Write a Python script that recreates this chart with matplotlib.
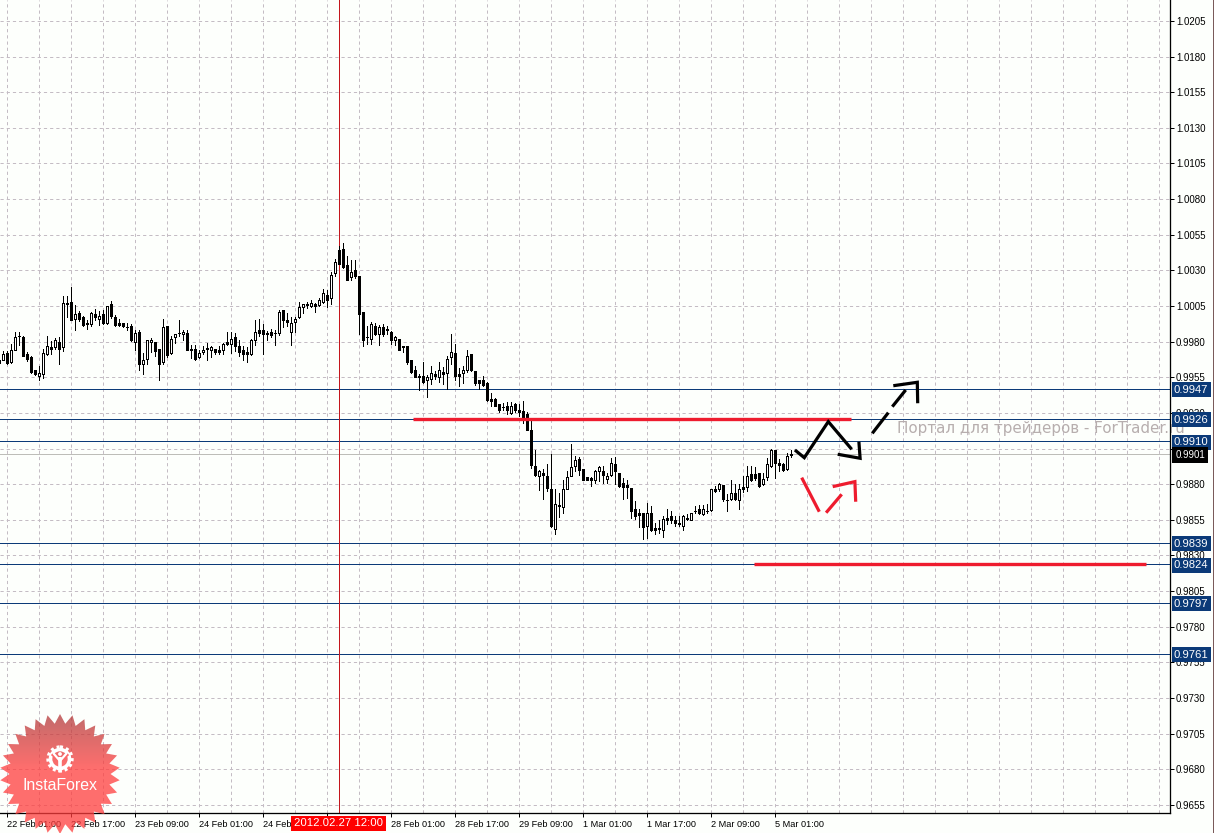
import numpy as np
import matplotlib
matplotlib.use("Agg")
import matplotlib.pyplot as plt
from matplotlib.lines import Line2D
from matplotlib.patches import Polygon, Circle, Rectangle

# Hourly EURUSD-style candles, prices in 1e-5 units; first candle is bar index -2
opens = [99674,99674,99721,99655,99744,99837,99835,99714,99695,99604,99557,99576,99714,99765,99763,99800,99763,100071,100078,99959,
100001,99973,99931,99924,99994,99959,99994,99931,100064,99973,99931,99931,99905,99912,99798,99870,99641,99676,99795,99798,
99749,99655,99910,99718,99830,99863,99854,99861,99746,99749,99690,99725,99753,99739,99749,99744,99744,99798,99786,99833,
99767,99744,99730,99711,99814,99882,99884,99861,99868,99863,99861,100024,99954,99866,99936,99973,100043,100066,100048,100066,
100059,100076,100130,100108,100281,100445,100452,100340,100253,100305,100263,100010,99835,99816,99912,99851,99903,99889,99870,99812,
99819,99767,99772,99669,99604,99562,99562,99529,99538,99576,99552,99590,99578,99693,99721,99576,99581,99599,99716,99592,
99534,99534,99510,99398,99398,99366,99345,99352,99300,99366,99324,99312,99296,99183,98931,98856,98880,98861,98768,98487,
98653,98641,98763,98856,98926,98978,98908,98852,98842,98833,98891,98891,98838,98868,98945,98880,98805,98791,98772,98623,
98595,98599,98506,98595,98492,98492,98478,98560,98576,98548,98529,98506,98562,98548,98613,98623,98588,98613,98618,98763,
98768,98791,98690,98698,98735,98688,98782,98782,98875,98875,98880,98798,98852,98926,99039,98950,98945,98908,99013]
highs = [99679,99732,99732,99786,99866,99866,99837,99730,99697,99604,99632,99749,99842,99802,99826,99833,100122,100122,100183,100059,
100013,99982,99950,100006,100029,100013,100024,100052,100083,99989,99959,99931,99931,99926,99884,99884,99721,99814,99826,99798,
99749,99959,99912,99842,99856,99954,99884,99884,99779,99779,99739,99767,99791,99772,99749,99767,99791,99868,99866,99861,
99814,99767,99763,99819,99954,99959,99926,99873,99889,99884,100024,100024,100001,99973,99973,100076,100066,100078,100094,100071,
100106,100169,100165,100286,100382,100468,100492,100398,100375,100375,100263,100010,99912,99936,99931,99919,99926,99912,99873,99842,
99819,99772,99772,99669,99627,99576,99660,99567,99632,99592,99655,99623,99702,99856,99786,99616,99627,99744,99716,99592,
99534,99562,99515,99440,99403,99366,99370,99375,99375,99370,99366,99382,99305,99265,99039,98903,98908,98945,99015,98763,
98740,98833,98891,99085,99001,98992,98908,98852,98852,98903,98931,98926,98880,98985,98992,98880,98845,98833,98775,98681,
98623,98599,98669,98646,98529,98548,98576,98623,98611,98576,98576,98581,98588,98599,98646,98651,98651,98658,98763,98786,
98810,98791,98728,98828,98798,98798,98856,98931,98931,98922,98880,98880,98985,99048,99043,98978,98950,99020,99039]
lows = [99646,99669,99646,99651,99739,99779,99697,99662,99581,99569,99534,99545,99709,99716,99749,99646,99732,99973,99950,99880,
99943,99908,99889,99908,99954,99919,99926,99926,99966,99908,99908,99903,99880,99802,99744,99604,99576,99646,99730,99702,
99529,99646,99693,99716,99791,99837,99809,99739,99686,99674,99686,99716,99669,99693,99711,99716,99716,99779,99721,99732,
99702,99669,99655,99709,99779,99837,99716,99814,99833,99779,99849,99903,99908,99779,99866,99966,100001,100036,100043,100006,
100048,100071,100043,100066,100258,100347,100316,100235,100230,100246,99856,99767,99786,99786,99849,99779,99842,99856,99786,99779,
99744,99725,99646,99581,99550,99459,99510,99412,99506,99538,99515,99506,99468,99646,99534,99487,99510,99585,99595,99496,
99468,99487,99384,99347,99347,99305,99319,99296,99296,99305,99277,99230,99179,98912,98856,98758,98693,98751,98501,98450,
98571,98595,98763,98856,98891,98868,98828,98828,98786,98805,98821,98810,98805,98861,98798,98782,98693,98705,98564,98553,
98501,98413,98424,98471,98448,98455,98429,98518,98525,98506,98506,98476,98548,98548,98595,98588,98581,98595,98611,98744,
98751,98681,98611,98688,98688,98623,98744,98751,98821,98828,98782,98791,98828,98922,98845,98891,98891,98903,98992]
closes = [99651,99716,99651,99744,99833,99842,99697,99679,99585,99571,99581,99721,99772,99749,99814,99749,100071,100062,99950,99996,
99959,99919,99926,100001,99971,99980,99931,100048,99978,99919,99919,99908,99901,99809,99861,99646,99672,99812,99814,99737,
99646,99903,99709,99821,99854,99859,99870,99744,99742,99679,99721,99744,99749,99763,99725,99725,99784,99786,99819,99767,
99725,99716,99716,99814,99870,99861,99856,99851,99849,99859,100010,99954,99936,99931,99959,100043,100062,100057,100071,100048,
100094,100141,100094,100267,100361,100347,100323,100235,100291,100263,99996,99814,99831,99924,99856,99903,99851,99880,99814,99833,
99744,99763,99655,99585,99550,99552,99515,99552,99581,99557,99604,99571,99679,99728,99557,99557,99604,99702,99599,99510,
99510,99499,99389,99387,99347,99324,99340,99319,99352,99324,99305,99265,99183,98936,98868,98894,98868,98775,98506,98662,
98648,98763,98852,98922,98973,98898,98833,98828,98828,98894,98922,98868,98861,98950,98891,98786,98782,98782,98611,98576,
98581,98501,98599,98478,98478,98483,98553,98548,98548,98525,98520,98574,98557,98599,98609,98599,98623,98609,98763,98751,
98803,98693,98686,98740,98693,98768,98763,98856,98828,98845,98786,98840,98943,99043,98950,98938,98898,99001,99008]
first_bar = -2

price_ticks = [1.0205,1.0180,1.0155,1.0130,1.0105,1.0080,1.0055,1.0030,1.0005,0.9980,0.9955,0.9930,0.9905,
               0.9880,0.9855,0.9830,0.9805,0.9780,0.9755,0.9730,0.9705,0.9680,0.9655]
date_ticks = [0,16,32,48,64,80,96,112,128,144,160,176,192]
date_labels = ["22 Feb 01:00","22 Feb 17:00","23 Feb 09:00","24 Feb 01:00","24 Feb 17:00","27 Feb 09:00",
               "28 Feb 01:00","28 Feb 17:00","29 Feb 09:00","1 Mar 01:00","1 Mar 17:00","2 Mar 09:00","5 Mar 01:00"]
levels = [0.9947,0.9926,0.9910,0.9839,0.9824,0.9797,0.9761]
last_price = 0.9901
cross_bar = 83
cross_label = "2012.02.27 12:00"
red_levels = [(101.4,211.0,0.9926),(186.7,284.7,0.9824)]
black_solid = [([196.9,199.25,205.25,211.1],[0.99040,0.98986,0.99239,0.99045]),
               ([207.6,213.2,212.9],[0.99010,0.98982,0.99098]),
               ([216.25,220.25],[0.99157,0.99302]),
               ([221.25,224.6],[0.99344,0.99461]),
               ([221.5,227.5,227.6],[0.99491,0.99515,0.99368])]
red_solid = [([198.6,203.0],[0.98846,0.98607]),
             ([204.7,208.6],[0.98600,0.98729]),
             ([206.35,211.9,212.1],[0.98783,0.98818,0.98677])]
watermark = "Портал для трейдеров - ForTrader.ru"

W, H = 1214, 833
BG = "#fdfffc"
GRID = "#c4bcc4"
BLUE = "#0b3a78"
FONT = ["Liberation Sans", "DejaVu Sans"]
plt.rcParams["font.family"] = FONT
px = 0.72

fig = plt.figure(figsize=(W/100, H/100), dpi=100, facecolor=BG)
ax = fig.add_axes([0, 20/H, 1170/W, 813/H], facecolor=BG)

ax.set_xlim((0-7.3)/4, (1170-7.3)/4)
ax.set_ylim(1.02197-813/14254, 1.02197)

# grid
for xg in np.arange(0, 291, 8):
    ax.axvline(xg, color=GRID, lw=px, ls=(0,(3.2,3.0)), zorder=1)
for p in price_ticks:
    ax.axhline(p, color=GRID, lw=px, ls=(0,(3.2,3.0)), zorder=1)

# candles
o = np.array(opens)/1e5; h = np.array(highs)/1e5; l = np.array(lows)/1e5; c = np.array(closes)/1e5
idx = first_bar + np.arange(len(o))
ax.vlines(idx, l, h, color="black", lw=px, zorder=3, antialiased=False)
up = c >= o
bot = np.minimum(o, c); ht = np.abs(c-o)
ax.bar(idx[up], ht[up], bottom=bot[up], width=0.55, facecolor="white", edgecolor="black", lw=px, zorder=4, antialiased=False)
ax.bar(idx[~up], ht[~up], bottom=bot[~up], width=0.55, facecolor="black", edgecolor="black", lw=px, zorder=4, antialiased=False)

# levels
for lv in levels:
    ax.axhline(lv, color=BLUE, lw=px, zorder=2)
ax.axhline(last_price, color="#bdbdb8", lw=px, zorder=2)
ax.axvline(cross_bar, color="#c4161c", lw=px, zorder=2.5)

# hand drawn
for x0, x1, y in red_levels:
    ax.plot([x0, x1], [y, y], color="#ee1c2e", lw=2.4, solid_capstyle="butt", zorder=5)
for xs, ys in black_solid:
    ax.plot(xs, ys, color="black", lw=2.3, solid_capstyle="butt", solid_joinstyle="miter", zorder=6)
for xs, ys in red_solid:
    ax.plot(xs, ys, color="#ee1c2e", lw=2.3, solid_capstyle="butt", solid_joinstyle="miter", zorder=6)

# axes furniture
for s in ("top", "left"):
    ax.spines[s].set_visible(False)
for s in ("right", "bottom"):
    ax.spines[s].set_linewidth(1.3*px)
    ax.spines[s].set_color("black")
ax.yaxis.tick_right()
ax.set_yticks(price_ticks)
ax.set_yticklabels([f"{p:.4f}" for p in price_ticks], fontsize=7, color="black")
ax.tick_params(axis="y", length=3, width=px, pad=1.2)
ax.set_xticks(date_ticks)
ax.set_xticklabels(date_labels, fontsize=6.6, color="black", ha="left")
ax.tick_params(axis="x", length=3, width=px, pad=1.8)

# watermark passes under the price boxes
ax.text((897-7.3)/4, 0.99192, watermark, fontsize=10.9, family="DejaVu Sans", color="#b7aeae", va="center", ha="left",
        clip_on=False, zorder=2.2)

# price boxes
yt = ax.get_yaxis_transform()
for lv in levels:
    ax.text(1.0034, lv, f"{lv:.4f}", transform=yt, fontsize=8.1, color="white", va="center_baseline", ha="left",
            bbox=dict(boxstyle="square,pad=0.22", fc=BLUE, ec="none"), zorder=10, clip_on=False)
ax.text(1.0045, last_price, f"{last_price:.4f}", transform=yt, fontsize=7, color="white", va="center_baseline", ha="left",
        bbox=dict(boxstyle="square,pad=0.3", fc="black", ec="none"), zorder=10, clip_on=False)

# crosshair date box
fig.text(338.5/W, 1-823.5/H, cross_label, fontsize=8.2, color="white", ha="center", va="center",
         bbox=dict(boxstyle="square,pad=0.22", fc="#ff0000", ec="none"), zorder=20)

# right border
fig.add_artist(Line2D([1212.5/W]*2, [0, 1], color="#7a5a5a", lw=px))

# logo overlay in pixel coordinates
ov = fig.add_axes([0, 0, 1, 1], facecolor="none")
ov.set_xlim(0, W); ov.set_ylim(H, 0); ov.axis("off")
cx, cy, n = 60, 774, 30
ang = np.linspace(-np.pi/2, 1.5*np.pi, 2*n, endpoint=False)
rad = np.where(np.arange(2*n) % 2 == 0, 60, 50.5)
star = Polygon(np.c_[cx+rad*np.cos(ang), cy+rad*np.sin(ang)], closed=True, fc="none", ec="none")
ov.add_patch(star)
grad = np.linspace(0, 1, 128)[:, None]
stops_t = np.clip((grad-0.05)/0.4, 0, 1)
rgb = np.dstack([(0.72+0.28*stops_t), (0.23+0.01*stops_t), (0.23+0.01*stops_t)])
im = ov.imshow(rgb, extent=(0, 120, 834, 714), alpha=0.75, aspect="auto", zorder=1)
im.set_clip_path(star)
ov.set_xlim(0, W); ov.set_ylim(H, 0)
ov.add_patch(Circle((60, 759), 9.5, fc="none", ec="white", lw=2.6, zorder=2))
ov.add_patch(Circle((60, 759), 12, fc="none", ec="white", lw=2.4, ls=(0,(0.9,0.9)), zorder=2))
ov.plot([52.5, 60, 67.5], [755, 762, 755], color="#f66", lw=1.6, zorder=2)
ov.plot([60, 60], [757, 772], color="white", lw=2.6, solid_capstyle="butt", zorder=3)
ov.plot([54, 60, 66], [754, 761, 754], color="white", lw=1.6, zorder=3)
ov.add_patch(Circle((60, 754), 1.9, fc="white", ec="none", zorder=3))
ov.text(59.5, 785.5, "InstaForex", fontsize=11.4, color="white", ha="center", va="center", zorder=3)

fig.savefig("out.png", dpi=100, facecolor=BG)
